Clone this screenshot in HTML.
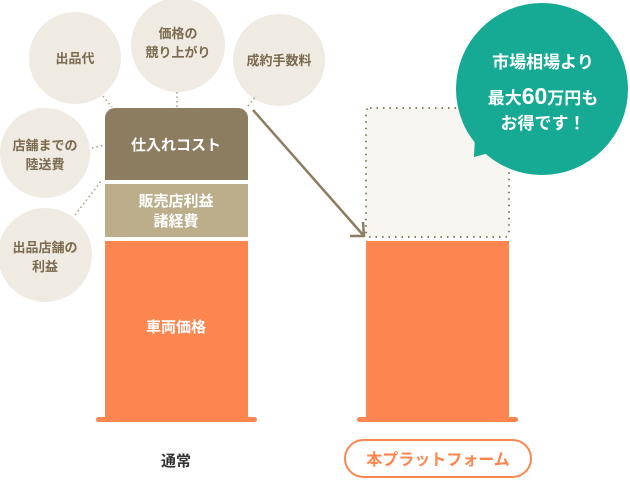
<!DOCTYPE html>
<html><head><meta charset="utf-8"><style>
body{margin:0;width:630px;height:480px;background:#fff;overflow:hidden;font-family:"Liberation Sans","Noto Sans CJK JP",sans-serif;}
svg text{font-family:"Liberation Sans","Noto Sans CJK JP",sans-serif;font-weight:bold;}
</style></head><body>
<svg width="630" height="480" viewBox="0 0 630 480">
<g fill="#efebe2">
<circle cx="75" cy="58" r="46"/>
<circle cx="178" cy="45" r="47"/>
<circle cx="279" cy="60" r="46"/>
<circle cx="45" cy="153" r="45"/>
<circle cx="45" cy="255" r="47"/>
</g>
<g stroke="#a89d85" stroke-width="1.5" stroke-dasharray="1.5,3" fill="none">
<line x1="103" y1="96" x2="112" y2="107"/>
<line x1="177" y1="92" x2="177" y2="107"/>
<line x1="248" y1="106" x2="256" y2="96"/>
<line x1="92" y1="148" x2="105" y2="145"/>
<line x1="75" y1="215" x2="102" y2="180"/>
</g>
<g fill="#7a6a4f" font-size="13" text-anchor="middle">
<text x="75" y="63">出品代</text>
<text x="178" y="38">価格の</text>
<text x="178" y="57">競り上がり</text>
<text x="279" y="65">成約手数料</text>
<text x="45" y="150">店舗までの</text>
<text x="45" y="169">陸送費</text>
<text x="45" y="252">出品店舗の</text>
<text x="45" y="271">利益</text>
</g>
<path d="M105,118 a10,10 0 0 1 10,-10 h123 a10,10 0 0 1 10,10 V180 H105 Z" fill="#8c7d60"/>
<rect x="105" y="184" width="143" height="53" fill="#bcae8a"/>
<rect x="105" y="241" width="143" height="177" fill="#fd8650"/>
<rect x="96" y="417" width="161" height="5" rx="2.5" fill="#fd8650"/>
<g fill="#fff" font-size="15" text-anchor="middle">
<text x="176" y="150">仕入れコスト</text>
<text x="176" y="206">販売店利益</text>
<text x="176" y="226">諸経費</text>
<text x="176" y="332">車両価格</text>
<text x="437" y="332">車両価格</text>
</g>
<rect x="366" y="108" width="143" height="129" rx="4" fill="#f7f5f0" stroke="#8c7d60" stroke-width="2" stroke-dasharray="1.5,5"/>
<rect x="366" y="241" width="143" height="177" fill="#fd8650"/>
<rect x="357" y="417" width="161" height="5" rx="2.5" fill="#fd8650"/>
<line x1="253" y1="110" x2="364" y2="236" stroke="#8c7d60" stroke-width="2.5"/>
<polyline points="350,236 364,236 363,222" fill="none" stroke="#8c7d60" stroke-width="2.5"/>
<circle cx="542" cy="89" r="86" fill="#16a994"/>
<polygon points="475,135 500,150 474,157" fill="#16a994"/>
<g fill="#fff" font-size="17" text-anchor="middle">
<text x="543" y="68">市場相場より</text>
<text x="543" y="104">最大<tspan font-size="23">60</tspan>万円も</text>
<text x="543" y="129">お得です！</text>
</g>
<text x="176" y="466" font-size="15" fill="#333" text-anchor="middle">通常</text>
<rect x="345" y="440" width="186" height="37" rx="18.5" fill="#fff" stroke="#fd8650" stroke-width="2"/>
<text x="438" y="465" font-size="16" fill="#fd8650" text-anchor="middle">本プラットフォーム</text>
</svg>
</body></html>
